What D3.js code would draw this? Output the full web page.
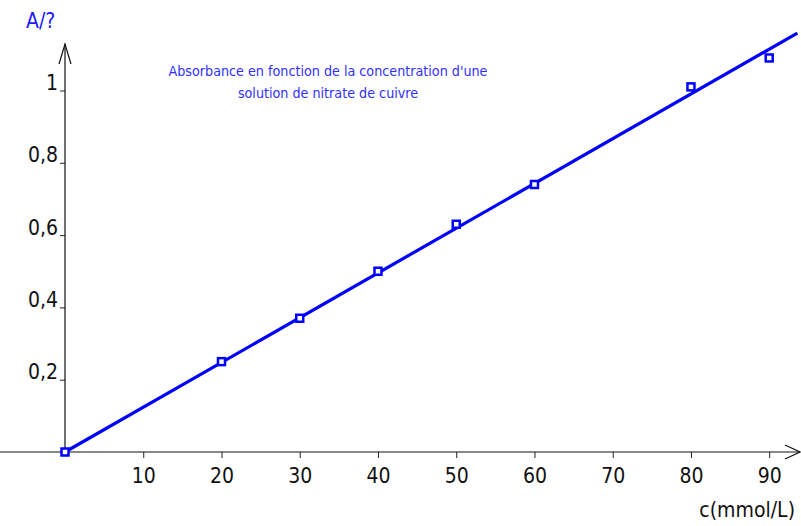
<!DOCTYPE html>
<html>
<head>
<meta charset="utf-8">
<script src="https://cdn.jsdelivr.net/npm/d3@7"></script>
<style>
  body { margin: 0; background: #fff; }
  svg { display: block; }
  .tick text { font-family: "DejaVu Sans Condensed", "DejaVu Sans", sans-serif; font-size: 21px; fill: #111; }
</style>
</head>
<body>
<div id="chart"></div>
<script>
/* Data */

var concentration = [0, 20, 30, 40, 50, 60, 80, 90]; // mmol/L
var absorbance = [0, 0.25, 0.37, 0.50, 0.63, 0.74, 1.01, 1.09];
var fitSlope = 0.01238; // modelled line A = k.c
var fitEnd = 93.6;
var xTicks = [10, 20, 30, 40, 50, 60, 70, 80, 90];
var yTicks = [0.2, 0.4, 0.6, 0.8, 1];
var titleLines = ["Absorbance en fonction de la concentration d'une", "solution de nitrate de cuivre"];

var width = 801,
    height = 526;

var svg = d3.select("#chart").append("svg")
  .attr("width", width)
  .attr("height", height);

var x = d3.scaleLinear().domain([0, 94]).range([65, 800.5]);
var y = d3.scaleLinear().domain([0, 1.13]).range([452, 43.5]);

var fr = d3.formatLocale({decimal: ",", thousands: " ", grouping: [3], currency: ["", " €"]});
var fmt = fr.format("~g");

/* minor ticks (every 2 units on x, every 0.05 on y) */
var xMinor = d3.range(2, 93, 2).filter(function(d) { return d % 10 != 0; });
var yMinor = d3.range(1, 22).map(function(d) { return d * 0.05; }).filter(function(d) { return Math.abs(d * 5 - Math.round(d * 5)) > 1e-6; });

var gx = svg.append("g").attr("transform", "translate(0," + y(0) + ")");
gx.call(d3.axisBottom(x).tickValues(xMinor).tickSize(3).tickFormat(""));
gx.call(d3.axisBottom(x).tickValues(xTicks).tickSize(6).tickFormat(d3.format("d")));
gx.selectAll(".domain").remove();
gx.selectAll(".tick line").attr("stroke", "#222");
gx.selectAll(".tick text").attr("y", 16).attr("dy", "0.71em");

var gy = svg.append("g").attr("transform", "translate(" + x(0) + ",0)");
gy.call(d3.axisLeft(y).tickValues(yMinor).tickSize(3).tickFormat(""));
gy.call(d3.axisLeft(y).tickValues(yTicks).tickSize(5).tickPadding(2).tickFormat(fmt));
gy.selectAll(".domain").remove();
gy.selectAll(".tick line").attr("stroke", "#222");
gy.selectAll(".tick text").attr("dy", "0").attr("y", -1);

/* axis lines with open arrows */
var axes = svg.append("g").attr("stroke", "#111").attr("stroke-width", 1.2).attr("fill", "none");
axes.append("line").attr("x1", 0).attr("x2", 800).attr("y1", y(0)).attr("y2", y(0));
axes.append("line").attr("x1", x(0)).attr("x2", x(0)).attr("y1", y(0)).attr("y2", 44);
axes.append("polyline").attr("points", [[785, y(0) - 7], [800, y(0)], [785, y(0) + 7]].join(" "));
axes.append("polyline").attr("points", [[x(0) - 6, 64], [x(0), 44], [x(0) + 6, 64]].join(" "));

/* fitted line */
var line = d3.line().x(function(d) { return x(d); }).y(function(d) { return y(fitSlope * d); });
svg.append("path")
  .datum([0, fitEnd])
  .attr("d", line)
  .attr("fill", "none")
  .attr("stroke", "#0000ff")
  .attr("stroke-width", 3.2);

/* measured points */
svg.append("g").selectAll("rect")
  .data(concentration)
  .enter().append("rect")
  .attr("x", function(d) { return x(d) - 3.5; })
  .attr("y", function(d, i) { return y(absorbance[i]) - 3.5; })
  .attr("width", 7)
  .attr("height", 7)
  .attr("fill", "#fff")
  .attr("stroke", "#0000ff")
  .attr("stroke-width", 2.5);

/* labels */
svg.append("text")
  .attr("x", 26).attr("y", 28)
  .attr("font-family", "DejaVu Sans Condensed, DejaVu Sans, sans-serif")
  .attr("font-size", 21)
  .attr("fill", "#1a1aff")
  .text("A/?");

svg.append("text")
  .attr("x", 795).attr("y", 517)
  .attr("text-anchor", "end")
  .attr("font-family", "DejaVu Sans Condensed, DejaVu Sans, sans-serif")
  .attr("font-size", 21)
  .attr("fill", "#111")
  .text("c(mmol/L)");

var title = svg.append("text")
  .attr("text-anchor", "middle")
  .attr("font-family", "DejaVu Sans Condensed, DejaVu Sans, sans-serif")
  .attr("font-size", 14.2)
  .attr("fill", "#3030ff");
title.selectAll("tspan")
  .data(titleLines)
  .enter().append("tspan")
  .attr("x", 328)
  .attr("y", function(d, i) { return 75.5 + i * 22; })
  .text(function(d) { return d; });
</script>
</body>
</html>
